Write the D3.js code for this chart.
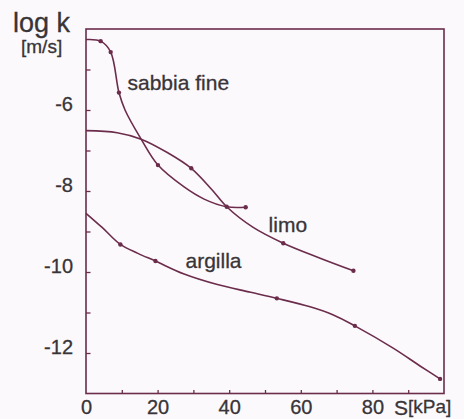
<!DOCTYPE html>
<html>
<head>
<meta charset="utf-8">
<script src="https://cdn.jsdelivr.net/npm/d3@7"></script>
<style>
    body { margin: 0; background: #fbf9fb; }
    svg { display: block; }
    text { font-family: "Liberation Sans", Arial, sans-serif; fill: #383438; stroke: #383438; stroke-width: 0.3px; }
</style>
</head>
<body>
<svg id="chart" width="464" height="419"></svg>
<script>
/**
 * Data. s = suction [kPa], k = log k [m/s].
 */
// Fitted curves
const sabbiaS = [0, 4.1, 6.9, 9.2, 10.9, 15.4, 20.1, 27.4, 33.0, 39.3, 44.6],
    sabbiaK = [-4.26, -4.30, -4.57, -5.57, -6.0, -6.72, -7.36, -7.90, -8.20, -8.39, -8.40];
const limoS = [0, 8.7, 15.4, 22.7, 29.4, 35.0, 39.3, 46.7, 55.1, 65.4, 74.7],
    limoK = [-6.51, -6.56, -6.72, -7.05, -7.44, -7.95, -8.39, -8.90, -9.29, -9.66, -9.97];
const argillaS = [0, 4.5, 9.6, 14.5, 19.4, 27.4, 36.7, 46.0, 53.3, 62.6, 69.1, 75.1, 85.8, 93.3, 98.9],
    argillaK = [-8.55, -8.90, -9.32, -9.54, -9.73, -10.05, -10.31, -10.50, -10.65, -10.86, -11.06, -11.33, -11.88, -12.32, -12.64];

// Measured points (markers)
const sabbiaPtS = [4.1, 6.9, 9.2, 20.1, 44.6],
    sabbiaPtK = [-4.30, -4.57, -5.57, -7.36, -8.40];
const limoPtS = [29.4, 39.3, 55.1, 74.7],
    limoPtK = [-7.44, -8.39, -9.29, -9.97];
const argillaPtS = [9.6, 19.4, 53.3, 75.1, 98.9],
    argillaPtK = [-9.32, -9.73, -10.65, -11.33, -12.64];

// Series names
const seriesNames = ['sabbia fine', 'limo', 'argilla'];

// Axes
const xDomain = [0, 100],
    yDomain = [-13, -4],
    xTicks = [0, 10, 20, 30, 40, 50, 60, 70, 80, 90],
    xTickLabels = [0, 20, 40, 60, 80],
    yTicks = [-5, -6, -7, -8, -9, -10, -11, -12],
    yTickLabels = [-6, -8, -10, -12];

/**
 * Visual configs.
 */
const margin = { top: 29, right: 20, bottom: 25.5, left: 86 },
    visWidth = 464, visHeight = 419,
    width = visWidth - margin.left - margin.right,
    height = visHeight - margin.top - margin.bottom,
    ink = '#6c2c4c';

const zip = (xs, ys) => xs.map((x, i) => ({ s: x, k: ys[i] }));

const series = [
    { name: seriesNames[0], curve: zip(sabbiaS, sabbiaK), points: zip(sabbiaPtS, sabbiaPtK), label: [11.6, -5.5] },
    { name: seriesNames[1], curve: zip(limoS, limoK), points: zip(limoPtS, limoPtK), label: [51, -9.0] },
    { name: seriesNames[2], curve: zip(argillaS, argillaK), points: zip(argillaPtS, argillaPtK), label: [27.8, -9.9] }
];

/**
 * D3.
 */
const xScale = d3.scaleLinear().domain(xDomain).range([0, width]),
    yScale = d3.scaleLinear().domain(yDomain).range([height, 0]),
    line = d3.line()
        .x(d => xScale(d.s))
        .y(d => yScale(d.k))
        .curve(d3.curveCatmullRom.alpha(0.5));

const svg = d3.select('#chart');
const g = svg.append('g')
    .attr('transform', 'translate(' + margin.left + ',' + margin.top + ')');

// Axes, ticks pointing inward
const xAxis = d3.axisBottom(xScale)
    .tickValues(xTicks)
    .tickSizeInner(-3.5).tickSizeOuter(0).tickPadding(6)
    .tickFormat(d => xTickLabels.includes(d) ? String(d) : '');
const yAxis = d3.axisLeft(yScale)
    .tickValues(yTicks)
    .tickSizeInner(-4.5).tickSizeOuter(0).tickPadding(13)
    .tickFormat(d => yTickLabels.includes(d) ? String(d) : '');

const xAxisG = g.append('g').attr('transform', 'translate(0,' + height + ')').call(xAxis);
const yAxisG = g.append('g').call(yAxis);

[xAxisG, yAxisG].forEach(ax => {
    ax.select('.domain').remove();
    ax.selectAll('.tick line').attr('stroke', ink).attr('stroke-width', 1.3)
        .attr('opacity', d => d === 0 ? 0 : 1);
    ax.selectAll('.tick text').attr('fill', '#383438').attr('font-size', 20)
        .attr('font-family', '"Liberation Sans", Arial, sans-serif');
});
yAxisG.selectAll('.tick text').attr('dy', '0em');

// Frame
g.append('rect')
    .attr('width', width).attr('height', height)
    .attr('fill', 'none').attr('stroke', ink).attr('stroke-width', 1.6);

// Curves and markers
const items = g.selectAll('.series').data(series).join('g').attr('class', 'series');

items.append('path')
    .attr('d', d => line(d.curve))
    .attr('fill', 'none')
    .attr('stroke', ink)
    .attr('stroke-width', 1.6);

items.selectAll('circle').data(d => d.points).join('circle')
    .attr('cx', d => xScale(d.s))
    .attr('cy', d => yScale(d.k))
    .attr('r', 2.2)
    .attr('fill', ink);

items.append('text')
    .attr('x', d => xScale(d.label[0]))
    .attr('y', d => yScale(d.label[1]))
    .attr('font-size', 21)
    .text(d => d.name);

// Axis titles
svg.append('text').attr('x', 13).attr('y', 32).attr('font-size', 27).text('log k');
svg.append('text').attr('x', 21).attr('y', 53).attr('font-size', 19).text('[m/s]');
svg.append('text').attr('x', 394).attr('y', 415).attr('font-size', 21).text('S');
svg.append('text').attr('x', 408).attr('y', 412.5).attr('font-size', 19).text('[kPa]');
</script>
</body>
</html>
